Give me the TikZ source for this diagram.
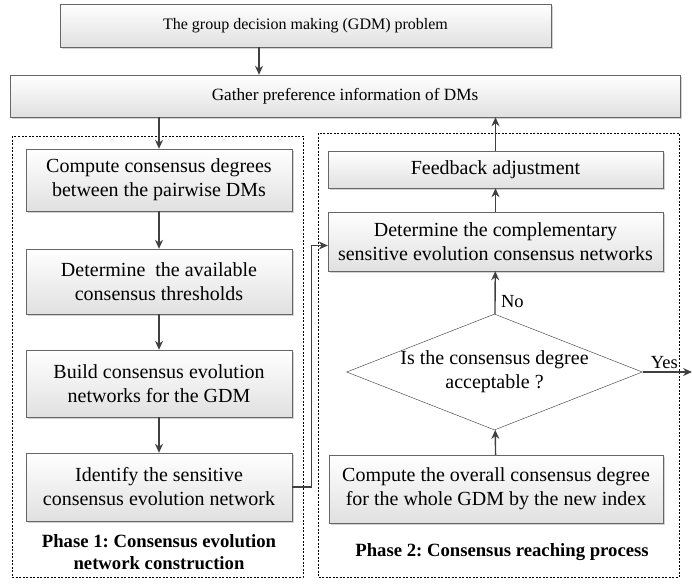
\documentclass[tikz,border=0pt]{standalone}
\usepackage{fontspec}
\setmainfont{Liberation Serif}
\usetikzlibrary{shapes.geometric,shadows,arrows.meta}

\tikzset{
	stepbox/.style={draw=black!60, top color=white, bottom color=black!12, align=center,
		drop shadow={opacity=0.35, shadow xshift=1.5pt, shadow yshift=-1.5pt},
		font=\fontsize{20}{24}\selectfont, inner sep=0pt},
	decide/.style={draw=black!80, diamond, fill=white, align=center, aspect=2.55,
		font=\fontsize{20}{24}\selectfont, inner sep=0pt},
	phase/.style={draw=black, dashed, dash pattern=on 2pt off 1.5pt, thin},
	flow/.style={draw=black!75, line width=1.4pt, -{Stealth[length=9pt,width=8pt]}},
	caption/.style={font=\fontsize{18.7}{21.5}\selectfont\bfseries, align=center},
	tag/.style={font=\fontsize{18.5}{20}\selectfont}
}

\begin{document}
\frenchspacing
\begin{tikzpicture}[x=1pt,y=-1pt]
		\useasboundingbox (0,0) rectangle (692,587);
		
		% dashed phase frames
		\draw[phase] (12,136) rectangle (303,577);
		\draw[phase] (318,133) rectangle (679,577);
		
		\node[stepbox, minimum width=491, minimum height=43, font=\fontsize{16}{19}\selectfont] (gdm) at (305.5,25.5) {The group decision making (GDM) problem};
		\node[stepbox, minimum width=670, minimum height=42, font=\fontsize{17.2}{20}\selectfont] (gather) at (345,96) {Gather preference information of DMs};
		
		% phase 1
		\node[stepbox, minimum width=266, minimum height=62] (degree) at (159,180) {Compute consensus degrees\\between the pairwise DMs};
		\node[stepbox, minimum width=266, minimum height=65] (thresh) at (159,281.5) {Determine\ \ the available\\consensus thresholds};
		\node[stepbox, minimum width=266, minimum height=67] (build) at (159,383.5) {Build consensus evolution\\networks for the GDM};
		\node[stepbox, minimum width=266, minimum height=68] (ident) at (159,487) {Identify the sensitive\\consensus evolution network};
		\node[caption] (cap1) at (159,552) {Phase 1: Consensus evolution\\network construction};
		
		% phase 2
		\node[stepbox, minimum width=335, minimum height=37] (feed) at (495.5,169.5) {Feedback adjustment};
		\node[stepbox, minimum width=335, minimum height=59] (compl) at (495.5,241.5) {Determine the complementary\\sensitive evolution consensus networks};
		\node[decide, minimum width=291, minimum height=114] (accept) at (494.5,372) {Is the consensus degree\\acceptable ?};
		\node[stepbox, minimum width=334, minimum height=68] (overall) at (496,489) {Compute the overall consensus degree\\for the whole GDM by the new index};
		\node[caption] (cap2) at (502,552) {Phase 2: Consensus reaching process};
		
		\coordinate (out) at (692,372);
		
		\draw[flow] ([xshift=-46.5pt]gdm.south) -- ([xshift=-46.5pt]gdm.south |- gather.north);
		\draw[flow] (gather.south -| degree.north) -- (degree.north);
		\draw[flow] (degree) -- (thresh);
		\draw[flow] (thresh) -- (build);
		\draw[flow] (build) -- (ident);
		\draw[flow] (ident.east) -- ++(19,0) |- ([yshift=-4pt]compl.west);
		\draw[flow] (overall) -- (accept);
		\draw[flow] (accept) -- node[pos=0.3, right, tag, xshift=2pt] {No} (compl);
		\draw[flow] (compl) -- (feed);
		\draw[flow] (feed.north) -- (feed.north |- gather.south);
		\draw[flow] (accept.east) -- node[pos=0.44, above, tag, yshift=-1pt] {Yes} (out);
		
	\end{tikzpicture}
\end{document}
